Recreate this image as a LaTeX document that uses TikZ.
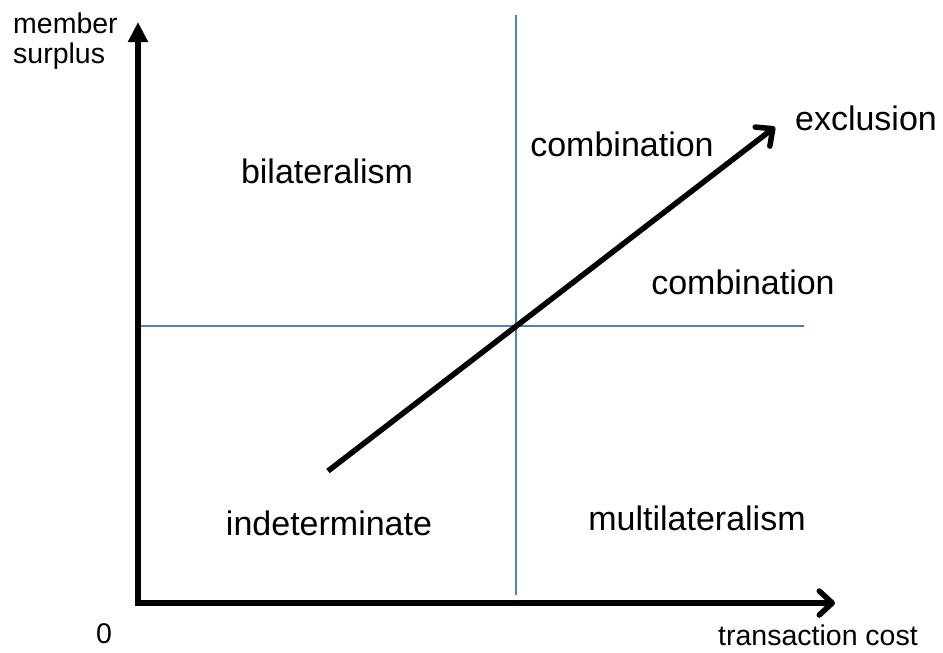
\documentclass[tikz,border=0pt]{standalone}
\usepackage{fontspec}
\setmainfont{Liberation Sans}
\usetikzlibrary{arrows.meta}
\definecolor{gridblue}{HTML}{4F81BD}
\begin{document}
\begin{tikzpicture}[x=1pt,y=-1pt,
  axis/.style={line width=5.5pt},
  grid/.style={gridblue,line width=1.5pt},
  big/.style={font=\fontsize{34}{40}\selectfont,anchor=base,inner sep=0pt},
  small/.style={font=\fontsize{28.5}{30}\selectfont,inner sep=0pt},
  barb/.style={-{Straight Barb[length=13pt,width=24pt,line width=5.5pt,round]}}]
\useasboundingbox (0,0) rectangle (943,653);
\coordinate (O) at (138,603);
\coordinate (ytip) at (138,22);
\coordinate (xtip) at (835,603);
\coordinate (vtop) at (516,15);
\coordinate (vbot) at (516,595);
\coordinate (hl) at (138,326);
\coordinate (hr) at (804,326);
\coordinate (dstart) at (328,471);
\coordinate (dend) at (775,127);
% grid lines
\draw[grid] (vtop) -- (vbot);
\draw[grid] (hl) -- (hr);
% axes
\draw[axis,-{Triangle[length=20pt,width=19pt]}] (O) -- (ytip);
\draw[axis,barb] ([xshift=-2.75pt]O) -- (xtip);
% diagonal
\draw[axis,barb] (dstart) -- (dend);
% labels
\node[small,anchor=base west,align=left] (ylab) at (13,63) {member\\surplus};
\node[small,anchor=base] (zero) at (104,643) {0};
\node[small,anchor=base] (xlab) at (818,645) {transaction cost};
\node[big] (bil) at (327,183) {bilateralism};
\node[big] (comb1) at (622,156) {combination};
\node[big] (excl) at (866,130) {exclusion};
\node[big] (comb2) at (743,294) {combination};
\node[big] (indet) at (329,535) {indeterminate};
\node[big] (multi) at (697,530) {multilateralism};
\end{tikzpicture}
\end{document}
